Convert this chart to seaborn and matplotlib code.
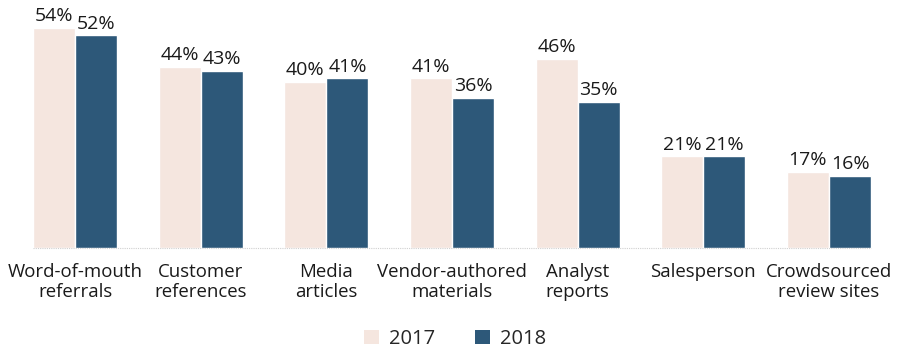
import matplotlib
matplotlib.use("Agg")
import matplotlib.pyplot as plt
import seaborn as sns
import pandas as pd
from matplotlib.patches import Patch

categories = [
    "Word-of-mouth\nreferrals",
    "Customer\nreferences",
    "Media\narticles",
    "Vendor-authored\nmaterials",
    "Analyst\nreports",
    "Salesperson",
    "Crowdsourced\nreview sites",
]
years = ["2017", "2018"]
values_2017 = [54, 44, 40, 41, 46, 21, 17]
values_2018 = [52, 43, 41, 36, 35, 21, 16]

colors = {"2017": "#F5E6DF", "2018": "#2D5879"}

df = pd.DataFrame({
    "category": categories * 2,
    "year": ["2017"] * len(categories) + ["2018"] * len(categories),
    "value": values_2017 + values_2018,
})

sns.set_theme(style="white")
plt.rcParams["font.family"] = ["Open Sans", "DejaVu Sans"]

# value axis does not start at zero: bars rise from a baseline slightly below it
base = -2.5
top = 60

fig = plt.figure(figsize=(8.99, 3.51), dpi=100)
px_per_unit = 3.9
ax_h = (top - base) * px_per_unit
ax = fig.add_axes([12.2 / 899, 103 / 351, (891.8 - 12.2) / 899, ax_h / 351])

sns.barplot(data=df, x="category", y="value", hue="year", order=categories,
            hue_order=years, palette=colors, width=0.67, gap=0,
            saturation=1, ax=ax, legend=False)

for container in ax.containers:
    for rect in container.patches:
        h = rect.get_height()
        rect.set_y(base)
        rect.set_height(h - base)
    ax.bar_label(container, labels=[f"{int(v)}%" for v in container.datavalues],
                 padding=2, fontsize=14, color="#1a1a1a")

ax.set_xlim(-0.5, len(categories) - 0.5)
ax.set_ylim(base, top)
ax.set_xlabel("")
ax.set_ylabel("")
ax.set_yticks([])
for side in ["top", "right", "left", "bottom"]:
    ax.spines[side].set_visible(False)

# light baseline under the bars
ax.hlines(base, -0.335, len(categories) - 1 + 0.335, color="#D0D0D0",
          linewidth=0.8, linestyles=(0, (1, 1)), zorder=0, clip_on=False)

ax.set_xticks(range(len(categories)))
ax.set_xticklabels(categories, fontsize=13.4, color="#1a1a1a", linespacing=1.15)
ax.tick_params(axis="x", length=0, pad=10.5)
ax.set_xticks([i + 0.5 for i in range(len(categories) - 1)], minor=True)
ax.tick_params(axis="x", which="minor", length=3, color="#D8D8D8", width=0.8)

handles = [Patch(facecolor=colors[y], edgecolor="none", label=y) for y in years]
fig.legend(handles=handles, loc="center", bbox_to_anchor=(455 / 899, 1 - 339 / 351),
           ncol=2, frameon=False, fontsize=14.5, handlelength=0.75, handleheight=0.75,
           columnspacing=2.0, handletextpad=0.5)

fig.savefig("out.png", dpi=100)
